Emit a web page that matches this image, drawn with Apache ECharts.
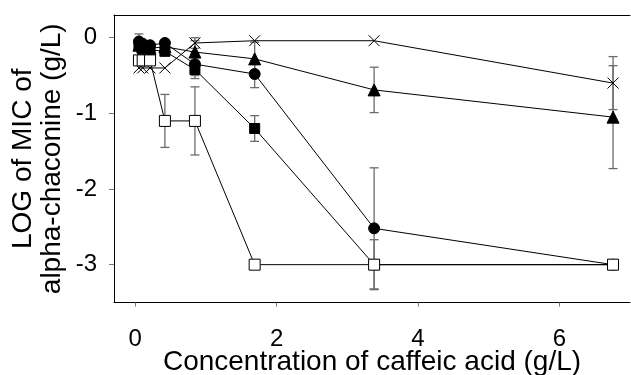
<!DOCTYPE html>
<html>
<head>
<meta charset="utf-8">
<script src="https://cdn.jsdelivr.net/npm/echarts@6/dist/echarts.min.js"></script>
<style>
  html, body { margin: 0; padding: 0; background: #fff; }
  #chart { width: 631px; height: 375px; }
</style>
</head>
<body>
<div id="chart"></div>
<script>
// Caffeic acid concentrations (g/L)
const conc = [0.053, 0.106, 0.21, 0.42, 0.845, 1.69, 3.38, 6.76];

// LOG of MIC of alpha-chaconine, one array per series, with error half-widths
const crossVals   = [-0.40, -0.40, -0.40, -0.40, -0.07, -0.04, -0.04, -0.60];
const crossErr    = [0, 0, 0, 0, 0.07, 0, 0, 0.35];
const triVals     = [-0.10, -0.12, -0.14, -0.12, -0.19, -0.28, -0.69, -1.05];
const triErr      = [0, 0, 0, 0, 0.15, 0.22, 0.30, 0.68];
const circVals    = [-0.05, -0.08, -0.10, -0.07, -0.35, -0.48, -2.52, -3.00];
const circErr     = [0.10, 0, 0, 0, 0.15, 0.18, 0.80, 0];
const sqFillVals  = [-0.10, -0.15, -0.16, -0.18, -0.42, -1.20, -3.00, -3.00];
const sqFillErr   = [0, 0, 0, 0, 0.12, 0.17, 0, 0];
const sqOpenVals  = [-0.30, -0.30, -0.30, -1.10, -1.10, -3.00, -3.00, -3.00];
const sqOpenErr   = [0, 0, 0, 0.35, 0.45, 0, 0.33, 0];

const xTicks = [0, 2, 4, 6];
const yTicks = [-3, -2, -1, 0];

const FONT = "'Liberation Sans', Arial, sans-serif";

function pairs(vals) {
  return conc.map((x, i) => [x, vals[i]]);
}
function errData(vals, errs) {
  return conc.map((x, i) => [x, vals[i], errs[i]]).filter(d => d[2] > 0);
}

// vertical error bar with caps
function renderErr(params, api) {
  const x = api.value(0), y = api.value(1), e = api.value(2);
  const top = api.coord([x, y + e]);
  const bot = api.coord([x, y - e]);
  const hw = 4.5;
  const st = { stroke: '#6b6b6b', lineWidth: 1.3 };
  return {
    type: 'group',
    children: [
      { type: 'line', shape: { x1: top[0], y1: top[1], x2: bot[0], y2: bot[1] }, style: st },
      { type: 'line', shape: { x1: top[0] - hw, y1: top[1], x2: top[0] + hw, y2: top[1] }, style: st },
      { type: 'line', shape: { x1: bot[0] - hw, y1: bot[1], x2: bot[0] + hw, y2: bot[1] }, style: st }
    ]
  };
}

function errSeries(vals, errs) {
  return {
    type: 'custom',
    renderItem: renderErr,
    encode: { x: 0, y: 1 },
    data: errData(vals, errs),
    z: 1,
    silent: true
  };
}

function lineSeries(vals, symbol, size, fill, z) {
  return {
    type: 'line',
    data: pairs(vals),
    symbol: symbol,
    symbolSize: size,
    showSymbol: true,
    lineStyle: { color: '#000', width: 1 },
    itemStyle: { color: fill, borderColor: '#000', borderWidth: 1 },
    z: z
  };
}

const chart = echarts.init(document.getElementById('chart'), null, { renderer: 'canvas' });

chart.setOption({
  animation: false,
  backgroundColor: '#fff',
  textStyle: { fontFamily: FONT },
  grid: { left: 114, right: 1, top: 15, bottom: 72.5, outerBoundsMode: 'none', containLabel: false },
  xAxis: [
    {
      type: 'value',
      min: -0.3,
      max: 7.0,
      position: 'bottom',
      splitLine: { show: false },
      axisLine: { show: true, onZero: false, lineStyle: { color: '#000', width: 1 } },
      axisTick: { show: true, length: 4, customValues: xTicks, lineStyle: { color: '#777' } },
      axisLabel: { customValues: xTicks, fontSize: 24, color: '#000', margin: 25, fontFamily: FONT },
      name: 'Concentration of caffeic acid (g/L)',
      nameLocation: 'middle',
      nameGap: 46,
      nameMoveOverlap: false,
      nameTextStyle: { fontSize: 28, color: '#000', fontFamily: FONT }
    },
    {
      type: 'value',
      min: -0.3,
      max: 7.0,
      position: 'top',
      splitLine: { show: false },
      axisLine: { show: true, onZero: false, lineStyle: { color: '#000', width: 1 } },
      axisTick: { show: false },
      axisLabel: { show: false }
    }
  ],
  yAxis: {
    type: 'value',
    min: -3.5,
    max: 0.3,
    splitLine: { show: false },
    axisLine: { show: true, onZero: false, lineStyle: { color: '#000', width: 1 } },
    axisTick: { show: true, length: 5, customValues: yTicks, lineStyle: { color: '#777' } },
    axisLabel: { customValues: yTicks, fontSize: 24, color: '#000', margin: 17, fontFamily: FONT },
    name: 'LOG of MIC of\nalpha-chaconine (g/L)',
    nameLocation: 'middle',
    nameRotate: 90,
    nameGap: 47,
    nameMoveOverlap: false,
    nameTextStyle: { fontSize: 28, lineHeight: 29, color: '#000', fontFamily: FONT, align: 'center' }
  },
  series: [
    errSeries(crossVals, crossErr),
    errSeries(triVals, triErr),
    errSeries(circVals, circErr),
    errSeries(sqFillVals, sqFillErr),
    errSeries(sqOpenVals, sqOpenErr),
    lineSeries(crossVals, 'path://M0,0L10,10M10,0L0,10', 11, 'transparent', 3),
    lineSeries(triVals, 'triangle', 12, '#000', 4),
    lineSeries(circVals, 'circle', 11, '#000', 5),
    lineSeries(sqFillVals, 'rect', 10, '#000', 6),
    lineSeries(sqOpenVals, 'rect', 11, '#fff', 7)
  ]
});
</script>
</body>
</html>
